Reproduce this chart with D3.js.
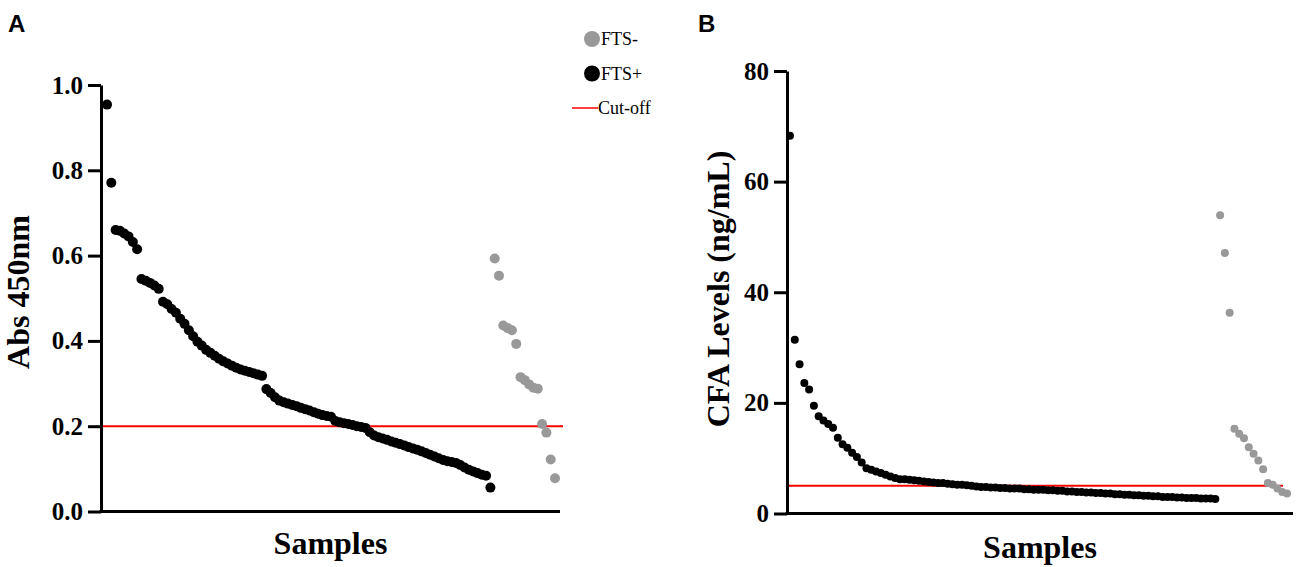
<!DOCTYPE html>
<html>
<head>
<meta charset="utf-8">
<script src="https://cdn.jsdelivr.net/npm/d3@7"></script>
<style>
  body { margin: 0; background: #fff; }
  svg { display: block; }
</style>
</head>
<body>
<svg id="chart" width="1299" height="567"></svg>
<script>
// panel A: absorbance at 450 nm, samples sorted high to low
var absPositive = [
  0.954, 0.771, 0.660, 0.658, 0.652, 0.645, 0.632, 0.615, 0.545, 0.541,
  0.536, 0.530, 0.522, 0.492, 0.486, 0.475, 0.466, 0.452, 0.440, 0.425,
  0.411, 0.398, 0.389, 0.379, 0.372, 0.365, 0.358, 0.352, 0.347, 0.342,
  0.337, 0.333, 0.330, 0.327, 0.324, 0.321, 0.318, 0.287, 0.278, 0.268,
  0.260, 0.256, 0.253, 0.250, 0.247, 0.243, 0.240, 0.237, 0.233, 0.229,
  0.226, 0.224, 0.222, 0.212, 0.209, 0.207, 0.205, 0.203, 0.200, 0.198,
  0.196, 0.186, 0.178, 0.174, 0.171, 0.168, 0.164, 0.161, 0.158, 0.155,
  0.151, 0.148, 0.145, 0.141, 0.137, 0.133, 0.129, 0.125, 0.121, 0.118,
  0.116, 0.114, 0.109, 0.103, 0.098, 0.094, 0.090, 0.086, 0.084, 0.056
];
var absNegative = [
  0.593, 0.553, 0.436, 0.430, 0.425, 0.393, 0.315, 0.308, 0.298, 0.290,
  0.288, 0.205, 0.185, 0.122, 0.078
];
var absCutoff = 0.2;
var absTicks = [0, 0.2, 0.4, 0.6, 0.8, 1.0];

// panel B: CFA levels (ng/mL)
var cfaPositive = [
  68.3, 31.4, 27.0, 23.6, 22.4, 19.5, 17.6, 16.8, 16.2, 15.5,
  13.7, 12.5, 11.9, 11.0, 10.2, 9.2, 8.2, 7.9, 7.6, 7.3,
  7.0, 6.7, 6.4, 6.2, 6.2, 6.1, 6.0, 5.9, 5.8, 5.7,
  5.6, 5.5, 5.5, 5.4, 5.3, 5.2, 5.2, 5.1, 5.0, 4.9,
  4.8, 4.8, 4.7, 4.7, 4.6, 4.6, 4.5, 4.5, 4.5, 4.4,
  4.4, 4.3, 4.3, 4.3, 4.2, 4.2, 4.1, 4.1, 4.0, 4.0,
  3.9, 3.9, 3.8, 3.8, 3.7, 3.7, 3.6, 3.6, 3.5, 3.5,
  3.4, 3.4, 3.3, 3.3, 3.2, 3.2, 3.1, 3.1, 3.0, 3.0,
  3.0, 2.9, 2.9, 2.8, 2.8, 2.8, 2.7, 2.7, 2.7, 2.6
];
var cfaNegative = [
  53.9, 47.1, 36.3, 15.3, 14.4, 13.6, 12.0, 10.8, 9.6, 8.0,
  5.5, 5.2, 4.5, 3.9, 3.6
];
var cfaCutoff = 5;
var cfaTicks = [0, 20, 40, 60, 80];

var legendLabels = ["FTS-", "FTS+", "Cut-off"];

var COL_POS = "#000000";
var COL_NEG = "#999999";
var COL_CUT = "#ff0000";
var SERIF = "'Liberation Serif', 'Times New Roman', serif";

var svg = d3.select("#chart");

function to_points(pos, neg){
  // one x slot per sample, positives first then negatives
  return pos.map((v, i) => ({i: i, v: v, neg: false}))
    .concat(neg.map((v, i) => ({i: pos.length + i, v: v, neg: true})));
}

function draw_panel(o){
  let pts = to_points(o.pos, o.neg);
  let x = d3.scaleLinear().domain([0, pts.length - 1]).range(o.xRange);
  let y = d3.scaleLinear().domain(o.yDomain).range(o.yRange);
  let g = svg.append("g");

  // cut-off line
  g.append("line")
    .attr("x1", o.axisX).attr("x2", o.cutEnd)
    .attr("y1", y(o.cutoff)).attr("y2", y(o.cutoff))
    .attr("stroke", COL_CUT).attr("stroke-width", 2);

  // samples
  g.selectAll("circle.pt")
    .data(pts)
    .enter().append("circle")
      .attr("class", "pt")
      .attr("cx", d => x(d.i))
      .attr("cy", d => y(d.v))
      .attr("r", o.r)
      .attr("fill", d => d.neg ? COL_NEG : COL_POS);

  // y axis
  let ax = g.append("g")
    .attr("transform", "translate(" + o.axisX + ",0)")
    .call(d3.axisLeft(y).tickValues(o.ticks).tickFormat(o.fmt)
      .tickSize(13).tickSizeOuter(0).tickPadding(5));
  ax.select(".domain").attr("stroke-width", 3);
  ax.selectAll(".tick line").attr("stroke-width", 3);
  ax.selectAll(".tick text")
    .attr("font-family", SERIF).attr("font-weight", "bold")
    .attr("font-size", "25px").attr("fill", "#000");

  // x axis (no ticks)
  g.append("line")
    .attr("x1", o.axisX - 1.5).attr("x2", o.axisEnd)
    .attr("y1", o.yRange[0]).attr("y2", o.yRange[0])
    .attr("stroke", "#000").attr("stroke-width", 3);

  // titles
  g.append("text")
    .attr("transform", "translate(" + o.yTitleX + "," + o.yTitleY + ") rotate(-90)")
    .attr("text-anchor", "middle")
    .attr("font-family", SERIF).attr("font-weight", "bold").attr("font-size", "32px")
    .text(o.yTitle);
  g.append("text")
    .attr("x", (o.axisX + o.axisEnd) / 2).attr("y", o.xTitleY)
    .attr("text-anchor", "middle")
    .attr("font-family", SERIF).attr("font-weight", "bold").attr("font-size", "32px")
    .text("Samples");

  // panel letter
  g.append("text")
    .attr("x", o.letterX).attr("y", 32)
    .attr("font-family", "'Liberation Sans', Arial, sans-serif")
    .attr("font-weight", "bold").attr("font-size", "24px")
    .text(o.letter);
}

draw_panel({
  pos: absPositive, neg: absNegative, cutoff: absCutoff,
  yDomain: [0, 1], yRange: [511.5, 85], xRange: [107, 555],
  axisX: 101, axisEnd: 560, cutEnd: 563, r: 5,
  ticks: absTicks, fmt: d3.format(".1f"),
  yTitle: "Abs 450nm", yTitleX: 29, yTitleY: 292, xTitleY: 554,
  letter: "A", letterX: 8
});

draw_panel({
  pos: cfaPositive, neg: cfaNegative, cutoff: cfaCutoff,
  yDomain: [0, 80], yRange: [513.5, 71], xRange: [790, 1287],
  axisX: 787, axisEnd: 1293, cutEnd: 1283, r: 4,
  ticks: cfaTicks, fmt: d3.format("d"),
  yTitle: "CFA Levels (ng/mL)", yTitleX: 729, yTitleY: 289, xTitleY: 558,
  letter: "B", letterX: 698
});

// legend
var legend = svg.append("g");
var legendY = d3.scalePoint().domain(legendLabels).range([39, 108]);

legend.selectAll("circle")
  .data(legendLabels.slice(0, 2))
  .enter().append("circle")
    .attr("cx", 592)
    .attr("cy", d => legendY(d))
    .attr("r", 8)
    .attr("fill", (d, i) => i == 0 ? COL_NEG : COL_POS);

legend.append("line")
  .attr("x1", 572).attr("x2", 598)
  .attr("y1", legendY("Cut-off")).attr("y2", legendY("Cut-off"))
  .attr("stroke", COL_CUT).attr("stroke-width", 1.5);

legend.selectAll("text")
  .data(legendLabels)
  .enter().append("text")
    .attr("x", (d, i) => i == 2 ? 598 : 601)
    .attr("y", d => legendY(d) + 6)
    .attr("font-family", SERIF).attr("font-size", "18px")
    .text(d => d);
</script>
</body>
</html>
